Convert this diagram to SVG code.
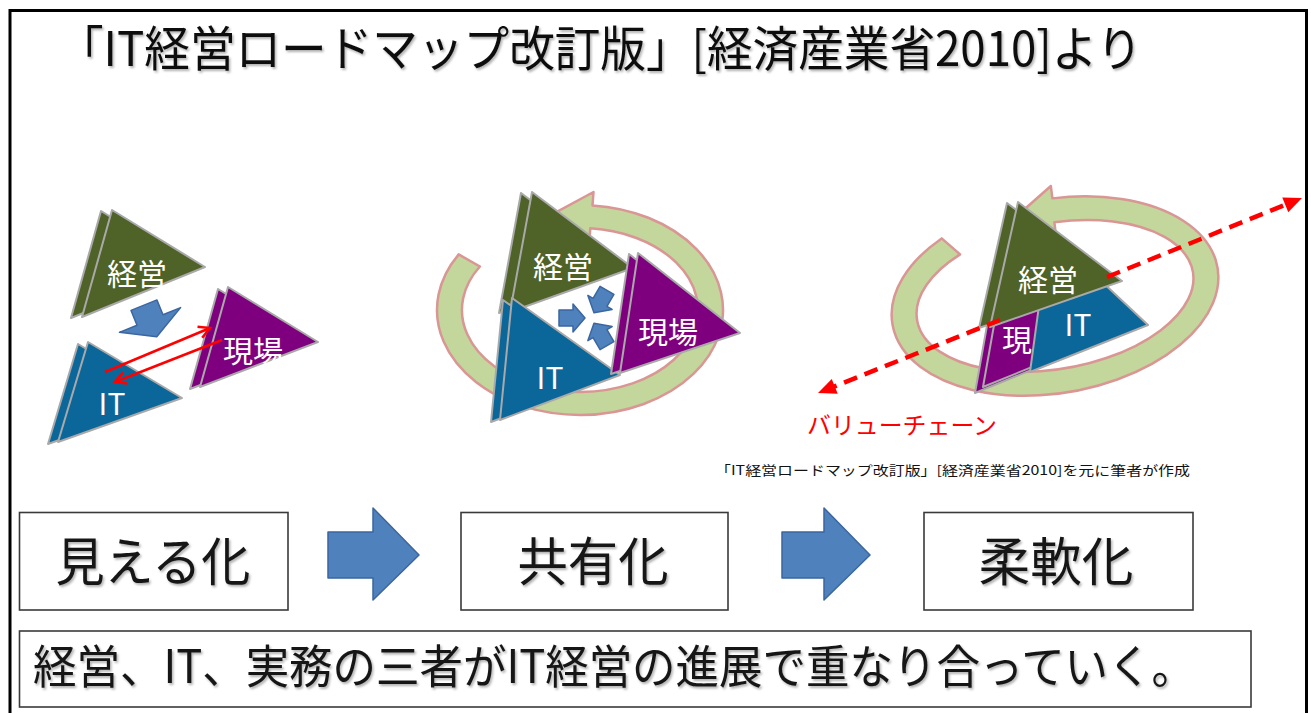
<svg xmlns="http://www.w3.org/2000/svg" width="1311" height="713" viewBox="0 0 1311 713">
  <defs>
    <style>
      text { font-family: "Noto Sans CJK JP", "Noto Sans", sans-serif; }
      .frame { fill: none; stroke: #000; stroke-width: 3; }
      .box { fill: #fff; stroke: #3a3a3a; stroke-width: 1.6; }
      .big { font-size: 52px; fill: #151515; text-anchor: middle; }
      .tri { stroke: #a9a9a9; stroke-width: 2; stroke-linejoin: round; }
      .g { fill: #4f6228; }
      .p { fill: #7f007f; }
      .b { fill: #0b679a; }
      .lbl { fill: #fff; font-size: 30px; text-anchor: middle; }
      .ring { fill: #c3d69b; stroke: #d99694; stroke-width: 2.5; stroke-linejoin: round; }
      .blk { fill: #4f81bd; stroke: #3b66a0; stroke-width: 1.5; stroke-linejoin: round; }
      .redline { fill: none; stroke: #ff0000; stroke-width: 2.5; }
      .vchain { fill: none; stroke: #ff0000; stroke-width: 4.5; stroke-dasharray: 14 8; }
    </style>
    <filter id="ts" x="-5%" y="-20%" width="110%" height="150%">
      <feDropShadow dx="1.5" dy="2" stdDeviation="1.2" flood-color="#000" flood-opacity="0.3"/>
    </filter>
    <marker id="openHead" markerUnits="userSpaceOnUse" markerWidth="16" markerHeight="16" refX="13" refY="7" orient="auto" overflow="visible">
      <path d="M2,1 L13,7 L2,13" fill="none" stroke="#ff0000" stroke-width="2.5"/>
    </marker>
    <marker id="solidHead" markerUnits="userSpaceOnUse" markerWidth="20" markerHeight="18" refX="12" refY="8" orient="auto" overflow="visible">
      <path d="M0,0 L18,8 L0,16 Z" fill="#ff0000"/>
    </marker>
  </defs>

  <!-- outer frame -->
  <rect class="frame" x="10" y="10.5" width="1296.5" height="800"/>

  <!-- heading -->
  <g id="title">
    <text x="58" y="66" font-size="48" fill="#111" textLength="1084" lengthAdjust="spacingAndGlyphs" filter="url(#ts)">「IT経営ロードマップ改訂版」[経済産業省2010]より</text>
  </g>

  <!-- stage 1: separate triangles -->
  <g id="s1-keiei">
    <polygon class="tri g" points="112,210 205,267 82,317" transform="translate(-11,1)"/>
    <polygon class="tri g" points="112,210 205,267 82,317"/>
    <text class="lbl" x="137" y="285">経営</text>
  </g>
  <g id="s1-genba">
    <polygon class="tri p" points="228,287 318,342 200,387" transform="translate(-10,2)"/>
    <polygon class="tri p" points="228,287 318,342 200,387"/>
    <text class="lbl" x="253" y="362">現場</text>
  </g>
  <g id="s1-it">
    <polygon class="tri b" points="88,342 182,398 58,442" transform="translate(-10,2)"/>
    <polygon class="tri b" points="88,342 182,398 58,442"/>
    <text class="lbl" x="112" y="415">IT</text>
  </g>

  <!-- stage 2: triangles meeting inside a cycle -->
  <g id="s2-cycle">
    <path class="ring" d="M458.7,254.4 A143,105 0 1 0 592.5,205.4 L593.5,192 L539.7,221.1 L589.3,241 L590.3,228.3 A118,82 0 1 1 479.9,266.5 Z"/>
  </g>
  <g id="s2-keiei">
    <polygon class="tri g" points="532,192 633,268 510,312" transform="translate(-11,1)"/>
    <polygon class="tri g" points="532,192 633,268 510,312"/>
    <text class="lbl" x="563" y="278">経営</text>
  </g>
  <g id="s2-it">
    <polygon class="tri b" points="512,298 620,375 500,420" transform="translate(-9,2)"/>
    <polygon class="tri b" points="512,298 620,375 500,420"/>
    <text class="lbl" x="550" y="389">IT</text>
  </g>
  <g id="s2-genba">
    <polygon class="tri p" points="638,253 740,333 620,373" transform="translate(-9,1)"/>
    <polygon class="tri p" points="638,253 740,333 620,373"/>
    <text class="lbl" x="668" y="343">現場</text>
  </g>

  <!-- stage 3: overlapping triangles inside a tilted cycle -->
  <g id="s3-cycle">
    <path class="ring" transform="rotate(-10 1055 296)" d="M953.4,219.6 A165,97 0 1 0 1069.4,199.4 L1070,187 L1028.5,212.3 L1066.5,236 L1067.2,223.3 A140,73 0 1 1 968.8,238.5 Z"/>
  </g>
  <g id="s3-genba">
    <polygon class="tri p" points="1004,230 1095,344 975,393"/>
    <polygon class="tri p" points="1004,230 1095,344 975,393" transform="translate(8,-6)"/>
    <text class="lbl" x="1017" y="351">現</text>
  </g>
  <g id="s3-it">
    <polygon class="tri b" points="1049,232 1148,325 1030,372"/>
    <text class="lbl" x="1078" y="336">IT</text>
  </g>
  <g id="s3-keiei">
    <polygon class="tri g" points="1018,202 1122,281 990,327" transform="translate(-11,1)"/>
    <polygon class="tri g" points="1018,202 1122,281 990,327"/>
    <text class="lbl" x="1048" y="291">経営</text>
  </g>

  <!-- labels -->
  <g id="value-chain-label">
    <text x="807" y="434" font-size="24" fill="#ff0000" textLength="190" lengthAdjust="spacingAndGlyphs">バリューチェーン</text>
  </g>
  <g id="source-note">
    <text x="715" y="475" font-size="13" fill="#111" textLength="475" lengthAdjust="spacingAndGlyphs">「IT経営ロードマップ改訂版」[経済産業省2010]を元に筆者が作成</text>
  </g>

  <!-- stage boxes -->
  <g id="box-mieru">
    <rect class="box" x="19.5" y="512.5" width="268.5" height="97.5"/>
    <text class="big" x="153" y="581" textLength="195" lengthAdjust="spacingAndGlyphs" filter="url(#ts)">見える化</text>
  </g>
  <g id="box-kyoyu">
    <rect class="box" x="461" y="512.5" width="267" height="97.5"/>
    <text class="big" x="593" y="581" textLength="151" lengthAdjust="spacingAndGlyphs" filter="url(#ts)">共有化</text>
  </g>
  <g id="box-junan">
    <rect class="box" x="924" y="512.5" width="269" height="97.5"/>
    <text class="big" x="1056" y="581" textLength="155" lengthAdjust="spacingAndGlyphs" filter="url(#ts)">柔軟化</text>
  </g>
  <g id="summary">
    <rect class="box" x="19.5" y="631" width="1231.5" height="76"/>
    <text x="33" y="683" font-size="46" fill="#151515" textLength="1162" lengthAdjust="spacingAndGlyphs" filter="url(#ts)">経営、IT、実務の三者がIT経営の進展で重なり合っていく。</text>
  </g>

  <!-- connectors -->
  <g id="connectors">
    <!-- stage 1: flow down from management, two-way exchange between IT and field -->
    <polygon class="blk" points="-14,-16 14,-16 14,0 33,0 0,18 -33,0 -14,0" transform="translate(150,320) rotate(-22)"/>
    <line class="redline" x1="105" y1="372" x2="210" y2="328" marker-end="url(#openHead)"/>
    <line class="redline" x1="222" y1="340" x2="115" y2="382" marker-end="url(#openHead)"/>
    <!-- stage 2: three arrows converging on the centre -->
    <g transform="translate(591,318)">
      <polygon class="blk" points="6,0 18,-14 18,-8 32,-8 32,8 18,8 18,14" transform="rotate(180)"/>
      <polygon class="blk" points="6,0 18,-14 18,-8 32,-8 32,8 18,8 18,14" transform="rotate(-60)"/>
      <polygon class="blk" points="6,0 18,-14 18,-8 32,-8 32,8 18,8 18,14" transform="rotate(60)"/>
    </g>
    <!-- stage 3: value chain axis passing through the triangles -->
    <line class="vchain" x1="1000" y1="320" x2="823.6" y2="390.8" marker-end="url(#solidHead)"/>
    <line class="vchain" x1="1107" y1="277" x2="1296.4" y2="200.3" marker-end="url(#solidHead)"/>
    <!-- stage progression -->
    <polygon class="blk" points="328,532 373,532 373,508 419,555 373,600 373,578 328,578"/>
    <polygon class="blk" points="782,532 824,532 824,508 870,555 824,600 824,578 782,578"/>
  </g>
</svg>
